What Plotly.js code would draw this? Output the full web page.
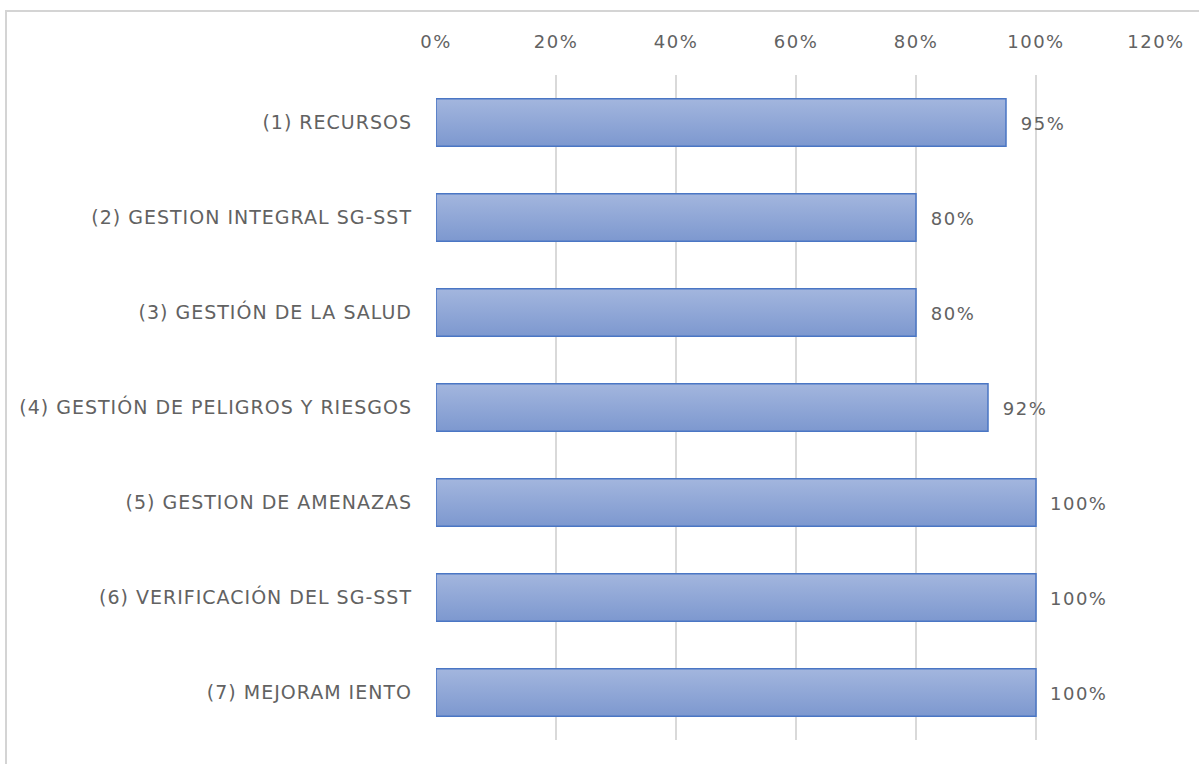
<!DOCTYPE html>
<html>
<head>
<meta charset="utf-8">
<script src="https://cdn.plot.ly/plotly-3.0.1.min.js"></script>
<style>
html,body{margin:0;padding:0;background:#fff;}
#chart{width:1199px;height:764px;position:relative;}
#frame{position:absolute;left:5px;top:10px;width:1200px;height:760px;border-left:2px solid #d4d4d4;border-top:2px solid #d4d4d4;pointer-events:none;}
#chart .xtick text, #chart .annotation-text {letter-spacing:1.5px;}
#chart .ytick text {letter-spacing:1px;}
</style>
</head>
<body>
<div id="chart"></div>
<div id="frame"></div>
<script>
const categories = [
  "(1) RECURSOS",
  "(2) GESTION INTEGRAL SG-SST",
  "(3) GESTIÓN DE LA SALUD",
  "(4) GESTIÓN DE PELIGROS Y RIESGOS",
  "(5) GESTION DE AMENAZAS",
  "(6) VERIFICACIÓN DEL SG-SST",
  "(7) MEJORAM IENTO"
];
const values = [0.95, 0.80, 0.80, 0.92, 1.00, 1.00, 1.00];
const tickValues = [0, 0.2, 0.4, 0.6, 0.8, 1.0, 1.2];
const tickLabels = ["0%", "20%", "40%", "60%", "80%", "100%", "120%"];

const fontFam = "DejaVu Sans, sans-serif";
const gray = "#626262";

const trace = {
  type: "bar",
  orientation: "h",
  x: values,
  y: categories,
  width: 0.5,
  marker: {color: "#8ea6d7", line: {color: "#4a76c4", width: 1.5}},
  hoverinfo: "none"
};

const annotations = values.map((v, i) => ({
  x: v, y: categories[i], xref: "x", yref: "y",
  text: Math.round(v * 100) + "%",
  showarrow: false, xanchor: "left", xshift: 15, yshift: -1,
  font: {family: fontFam, size: 18, color: gray}
}));

const layout = {
  width: 1199, height: 764,
  margin: {l: 436, r: 43, t: 75, b: 24},
  paper_bgcolor: "#fff", plot_bgcolor: "#fff",
  showlegend: false,
  xaxis: {
    side: "top", range: [0, 1.2],
    tickvals: tickValues, ticktext: tickLabels,
    showgrid: true, gridcolor: "#d9d9d9", gridwidth: 1.5,
    zeroline: false, showline: false, ticks: "",
    ticklabelstandoff: 22,
    tickfont: {family: fontFam, size: 18, color: gray},
    fixedrange: true
  },
  yaxis: {
    autorange: "reversed", type: "category",
    showgrid: false, zeroline: false, showline: false, ticks: "",
    ticklabelstandoff: 23,
    tickfont: {family: fontFam, size: 19, color: gray},
    fixedrange: true
  },
  annotations: annotations
};

Plotly.newPlot("chart", [trace], layout, {displayModeBar: false, staticPlot: true}).then(function (gd) {
  const svg = gd.querySelector("svg.main-svg");
  const ns = "http://www.w3.org/2000/svg";
  let defs = svg.querySelector("defs");
  if (!defs) { defs = document.createElementNS(ns, "defs"); svg.insertBefore(defs, svg.firstChild); }
  const lg = document.createElementNS(ns, "linearGradient");
  lg.setAttribute("id", "barGrad");
  lg.setAttribute("x1", "0"); lg.setAttribute("y1", "0");
  lg.setAttribute("x2", "0"); lg.setAttribute("y2", "1");
  [["0%", "#a3b6de"], ["100%", "#7d98cf"]].forEach(function (s) {
    const st = document.createElementNS(ns, "stop");
    st.setAttribute("offset", s[0]); st.setAttribute("stop-color", s[1]);
    lg.appendChild(st);
  });
  defs.appendChild(lg);
  gd.querySelectorAll(".barlayer .point path").forEach(function (p) {
    p.style.fill = "url(#barGrad)";
  });
});
</script>
</body>
</html>
